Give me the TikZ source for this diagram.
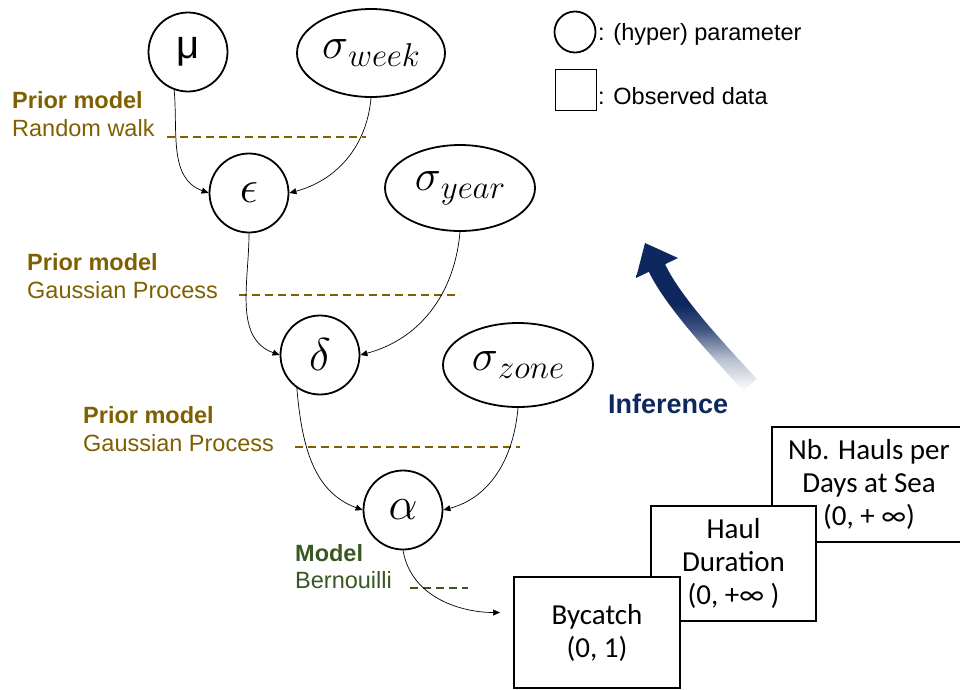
\RequirePackage{fix-cm}
\documentclass[tikz,border=0pt]{standalone}
\usepackage{fontspec}
\setmainfont{Liberation Sans}
\newfontfamily\calfont{Carlito}
\usetikzlibrary{arrows.meta,shapes.geometric}
\definecolor{prior}{RGB}{127,96,0}
\definecolor{modelg}{RGB}{56,87,35}
\definecolor{infnavy}{RGB}{14,40,95}
\pgfdeclareverticalshading{infshade}{100bp}{color(0bp)=(white); color(25bp)=(white); color(36bp)=(infnavy!30); color(46bp)=(infnavy!80); color(54bp)=(infnavy); color(100bp)=(infnavy)}
\newcommand{\sigsub}[1]{{\fontsize{44}{46}\selectfont$\sigma$\raisebox{-8pt}{\fontsize{33}{35}\selectfont$#1$}}}
\tikzset{
 param/.style={circle, draw, line width=1.8pt, minimum size=79pt, inner sep=0pt, font=\fontsize{46}{48}\selectfont},
 hyper/.style={ellipse, draw, line width=1.8pt, minimum width=148pt, minimum height=88pt, inner sep=0pt},
 obs/.style={rectangle, draw, line width=2pt, fill=white, align=center, font=\calfont\fontsize{29}{33}\selectfont, inner sep=0pt},
 conn/.style={line width=0.7pt, -{Triangle[length=7pt,width=6pt]}},
 lblhead/.style={anchor=base west, font=\bfseries\fontsize{23.5}{26}\selectfont, inner sep=0pt},
 lbl/.style={anchor=base west, font=\fontsize{23.5}{26}\selectfont, inner sep=0pt},
 sepline/.style={line width=1.8pt, dash pattern=on 8pt off 5pt},
}
\begin{document}
\begin{tikzpicture}[x=1pt,y=1pt]
\useasboundingbox (0,0) rectangle (960,-689);
% parameter nodes
\node[param, font=\fontsize{40}{42}\selectfont] (mu) at (188,-52) {μ};
\node[hyper] (sw) at (371,-53) {\sigsub{week}};
\node[param] (eps) at (249,-193) {$\epsilon$};
\node[hyper, minimum width=150pt, minimum height=86pt] (sy) at (460,-188) {\sigsub{year}};
\node[param] (delta) at (320,-355) {$\delta$};
\node[hyper, minimum width=150pt, minimum height=84pt] (sz) at (518,-365) {\sigsub{zone}};
\node[param] (alpha) at (403,-510) {$\alpha$};
% observed data boxes
\node[obs, minimum width=194pt, minimum height=115pt] (nb) at (869,-484.5) {Nb. Hauls per\\Days at Sea\\(0, + ∞)};
\node[obs, minimum width=165pt, minimum height=115pt] (haul) at (733.5,-563.5) {Haul\\Duration\\(0, +∞ )};
\node[obs, minimum width=166pt, minimum height=111pt] (byc) at (597,-632.5) {Bycatch\\(0, 1)};
% legend
\node[circle, draw, line width=1.8pt, minimum size=41pt, inner sep=0pt] (lc) at (575,-32) {};
\node[rectangle, draw, line width=1.8pt, minimum size=41pt, inner sep=0pt] (ls) at (576,-90) {};
\node[lbl] (lct) at (598,-40) {: (hyper) parameter};
\node[lbl] (lst) at (598,-104) {: Observed data};
% model labels
\node[lblhead, text=prior] (p1) at (12,-108) {Prior model};
\node[lbl, text=prior] (r1) at (12,-136) {Random walk};
\coordinate (d1a) at (167,-137); \coordinate (d1b) at (366,-137);
\draw[sepline, draw=prior] (d1a) -- (d1b);
\node[lblhead, text=prior] (p2) at (27,-270) {Prior model};
\node[lbl, text=prior] (r2) at (27,-298) {Gaussian Process};
\coordinate (d2a) at (239,-295); \coordinate (d2b) at (460,-295);
\draw[sepline, draw=prior] (d2a) -- (d2b);
\node[lblhead, text=prior] (p3) at (83,-423) {Prior model};
\node[lbl, text=prior] (r3) at (83,-451) {Gaussian Process};
\coordinate (d3a) at (295,-447); \coordinate (d3b) at (520,-447);
\draw[sepline, draw=prior] (d3a) -- (d3b);
\node[lblhead, text=modelg] (m4) at (295,-561) {Model};
\node[lbl, text=modelg] (b4) at (295,-588) {Bernouilli};
\coordinate (d4a) at (410,-588); \coordinate (d4b) at (468,-588);
\draw[sepline, draw=modelg] (d4a) -- (d4b);
% connectors
\draw[conn] (mu.-110) to[out=-85,in=160] (eps.west);
\draw[conn] (sw.south) to[out=-95,in=15] (eps.east);
\draw[conn] (eps.south) to[out=-90,in=160] (delta.west);
\draw[conn] (sy.south) to[out=-95,in=15] (delta.east);
\draw[conn] (delta.-125) to[out=-85,in=160] (alpha.west);
\draw[conn] (sz.south) to[out=-95,in=15] (alpha.east);
\draw[conn, shorten >=13pt] (alpha.south) to[out=-80,in=180] ([yshift=20pt]byc.west);
% inference arrow
\shade[shading=infshade] (743.3,-391) .. controls (716.3,-361) and (665.9,-307.8) .. (648.9,-271.8) -- (636,-278) -- (645,-243) -- (678,-258) -- (665.1,-264.2) .. controls (682.1,-300.2) and (729.7,-349) .. (756.7,-379) -- cycle;
\node[font=\bfseries\fontsize{27}{30}\selectfont, text=infnavy, anchor=base west, inner sep=0pt] (inf) at (608,-413) {Inference};
\end{tikzpicture}
\end{document}
